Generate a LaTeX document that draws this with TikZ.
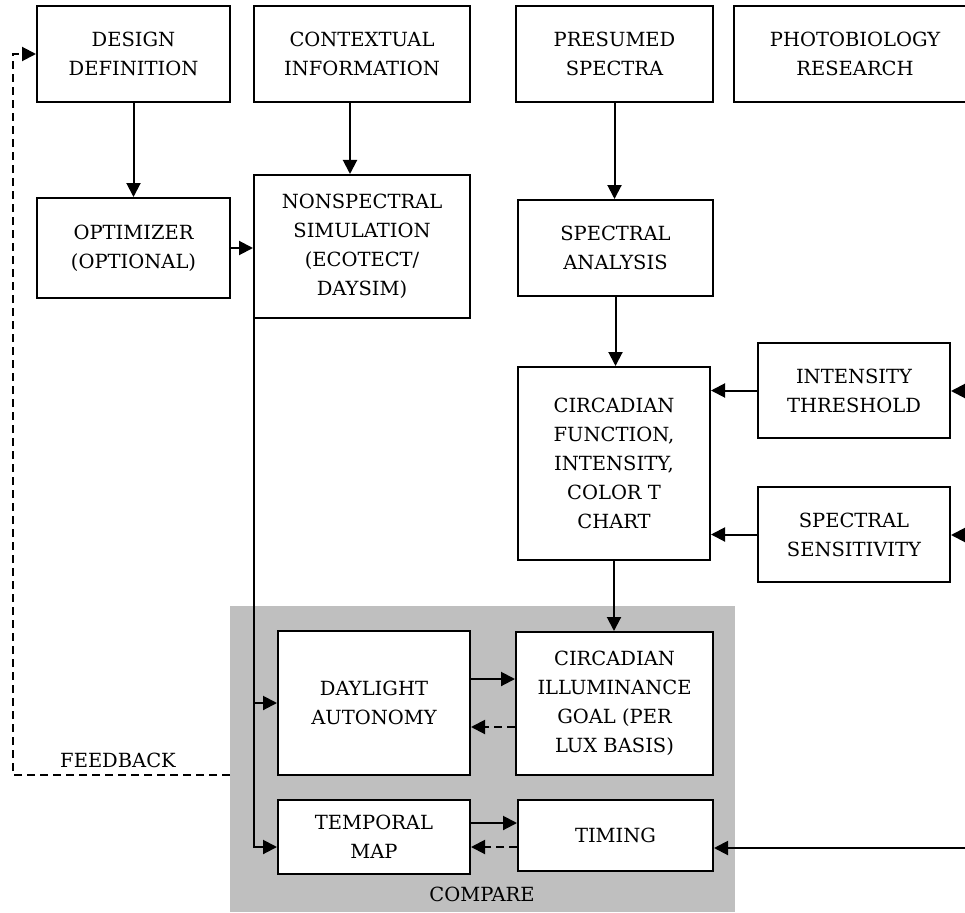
\documentclass[tikz,border=0pt]{standalone}
\usepackage{fontspec}
\setmainfont{DejaVu Serif}
\usetikzlibrary{arrows.meta}

\begin{document}
\begin{tikzpicture}[x=1pt,y=-1pt]
\tikzset{block/.style = {shape=rectangle,draw,line width=2pt,fill=white,align=center,inner sep=0pt,font=\fontsize{19.5}{29}\selectfont},
    tag/.style = {inner sep=0pt,font=\fontsize{19.5}{29}\selectfont},
    link/.style = {line width=2pt,-{Triangle[length=14pt,width=14pt]}},
    back/.style = {link,dash pattern=on 8pt off 5pt}}
\clip[use as bounding box] (0,0) rectangle (965,912);
% compare area
\node[fill=black!25,minimum width=505pt,minimum height=306pt,inner sep=0pt] (compare) at (482.5,759) {};
\node[tag] (comparelabel) at (482,894) {COMPARE};
\node[tag] (feedback) at (118,760) {FEEDBACK};
% blocks
\foreach \id/\cx/\cy/\w/\h/\txt in {
    design/133.5/54/193/96/{DESIGN\\DEFINITION},
    context/362/54/216/96/{CONTEXTUAL\\INFORMATION},
    presumed/614.5/54/197/96/{PRESUMED\\SPECTRA},
    photo/855/54/242/96/{PHOTOBIOLOGY\\RESEARCH},
    optimizer/133.5/248/193/100/{OPTIMIZER\\(OPTIONAL)},
    nonspec/362/246.5/216/143/{NONSPECTRAL\\SIMULATION\\(ECOTECT/\\DAYSIM)},
    spectral/615.5/248/195/96/{SPECTRAL\\ANALYSIS},
    circfn/614/463.5/192/193/{CIRCADIAN\\FUNCTION,\\INTENSITY,\\COLOR T\\CHART},
    threshold/854/390.5/192/95/{INTENSITY\\THRESHOLD},
    sensitivity/854/534.5/192/95/{SPECTRAL\\SENSITIVITY},
    daylight/374/703/192/144/{DAYLIGHT\\AUTONOMY},
    goal/614.5/703.5/197/143/{CIRCADIAN\\ILLUMINANCE\\GOAL (PER\\LUX BASIS)},
    temporal/374/837/192/74/{TEMPORAL\\MAP},
    timing/615.5/835.5/195/71/{TIMING}} {
    \node[block,minimum width=\w pt,minimum height=\h pt] (\id) at (\cx,\cy) {\txt};
}
% inputs from the right
\coordinate (inthreshold) at (965,391);
\coordinate (insensitivity) at (965,535);
\coordinate (intiming) at (965,848);
\coordinate (fb) at (230,775);
% links
\foreach \a/\b in {design/optimizer,presumed/spectral,spectral/circfn,circfn/goal} {
    \draw[link] (\a.south) -- (\a.south |- \b.north);
}
\foreach \a/\b in {threshold/circfn,sensitivity/circfn} {
    \draw[link] (\a.west) -- (\a.west -| \b.east);
}
\foreach \a in {threshold,sensitivity,timing} {
    \draw[link] (in\a) -- (in\a -| \a.east);
}
\draw[link] ([xshift=-12pt]context.south) -- ([xshift=-12pt]context.south |- nonspec.north);
\draw[link] (optimizer.east) -- (optimizer.east -| nonspec.west);
\draw[link] ([xshift=1pt]nonspec.south west) |- ([yshift=-10pt]temporal.west);
\draw[link] ([xshift=1pt]nonspec.south west |- daylight.west) -- (daylight.west);
\draw[link] ([yshift=24pt]daylight.east) -- ([yshift=24pt]daylight.east -| goal.west);
\draw[back] ([yshift=-24pt]daylight.east -| goal.west) -- ([yshift=-24pt]daylight.east);
\draw[link] ([yshift=14pt]temporal.east) -- ([yshift=14pt]temporal.east -| timing.west);
\draw[back] ([yshift=-10pt]temporal.east -| timing.west) -- ([yshift=-10pt]temporal.east);
\draw[back] (fb) -| ([xshift=-23pt]design.west) -- (design.west);
\end{tikzpicture}
\end{document}
